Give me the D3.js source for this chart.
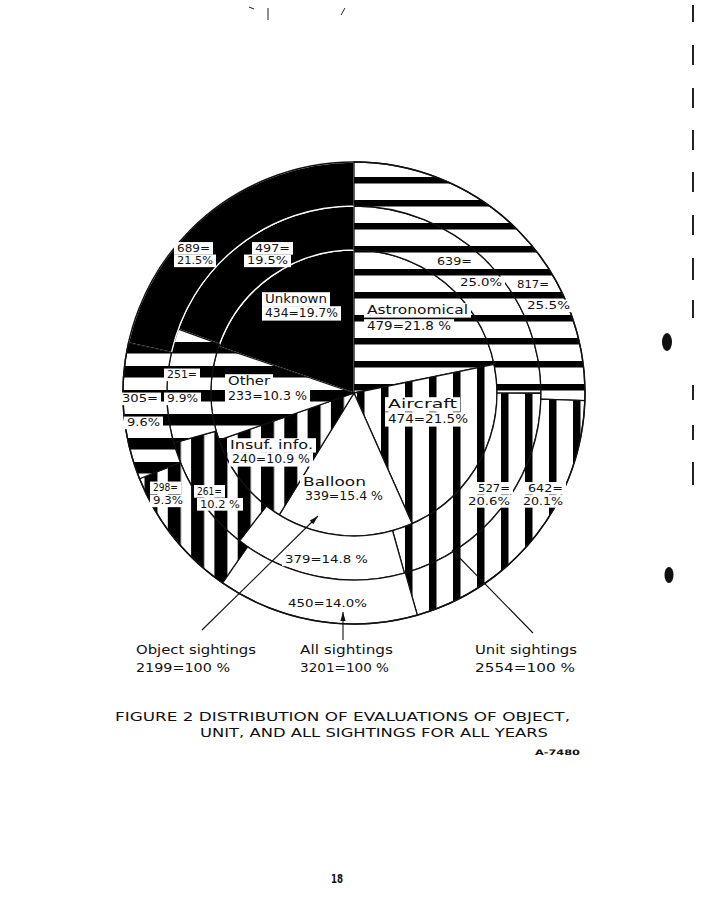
<!DOCTYPE html>
<html><head><meta charset="utf-8">
<script src="https://cdn.jsdelivr.net/npm/d3@7"></script>
<style>
body{margin:0;background:#fff;}
text{font-family:"DejaVu Sans",sans-serif;fill:#111;}
</style>
</head><body>
<svg id="c" width="723" height="900"></svg>
<script>
// ---------------- DATA ----------------
const categories = ["Astronomical", "Aircraft", "Balloon", "Insuf. info.", "Other", "Unknown"];
const objectValues = [479, 474, 339, 240, 233, 434];
const objectPct    = ["21.8 %", "21.5%", "15.4 %", "10.9 %", "10.3 %", "19.7%"];
const unitValues   = [639, 527, 379, 261, 251, 497];
const unitPct      = ["25.0%", "20.6%", "14.8 %", "10.2 %", "9.9%", "19.5%"];
const allValues    = [817, 642, 450, 298, 305, 689];
const allPct       = ["25.5%", "20.1%", "14.0%", "9.3%", "9.6%", "21.5%"];
const ringNames    = ["Object sightings", "Unit sightings", "All sightings"];
const ringTotals   = [2199, 2554, 3201];
const totalPct     = "100 %";
const captionLines = ["FIGURE 2  DISTRIBUTION  OF  EVALUATIONS  OF  OBJECT,", "UNIT,  AND  ALL  SIGHTINGS  FOR  ALL  YEARS"];
const figCode = "A-7480";
const pageNumber = "18";

// ---------------- LAYOUT / STYLE ----------------
const cx = 354, cy = 393;
const ringRadii = [[0, 143], [143, 187], [187, 231]];
const fills = ["url(#pAstro)", "url(#pAir)", "#fff", "url(#pInsuf)", "url(#pOther)", "#000"];
// label lines: [x, baseline, width]
const labelLayout = [
  [ [[367,314,101],[367,330,84]], [[388,408,69],[388,423,80]], [[303,486,63],[305,500,78]],
    [[230,449,83],[232,463,78]], [[228,385,42],[228,400,79]], [[265,303,62],[265,317,73]] ],
  [ [[437,265,35],[460,286,42]], [[478,491.5,32],[468,504.5,42]], [[285,563,83]],
    [[197,494.5,25],[200,507.5,40]], [[167,378,30],[167,402,31]], [[255,251.5,35],[247,264,41]] ],
  [ [[517,288,32],[527,309,43]], [[528,491.5,35],[523,504.5,40]], [[288,607,79]],
    [[153,491,25],[153,504,30]], [[122,402,36],[127,426,33]], [[177,251.5,33],[177,264,36]] ]
];
const labelFont = [12, 10.5, 10.5];
const bottomLayout = [ [[136,654,120],[136,672,94]], [[475,654,102],[475,672,100]], [[300,654,93],[300,672,89]] ];
const leaders = [ {from:[202,630], to:[318,516]}, {from:[533,633], to:[452,550]}, {from:[343,640], to:[343,612]} ];

const svg = d3.select("#c");
svg.append("rect").attr("width",723).attr("height",900).attr("fill","#fff");
const defs = svg.append("defs");

function hPattern(id, period, thick, offset) {
  const p = defs.append("pattern").attr("id", id).attr("patternUnits", "userSpaceOnUse")
    .attr("x", 0).attr("y", offset).attr("width", 40).attr("height", period);
  p.append("rect").attr("width", 40).attr("height", period).attr("fill", "#fff");
  p.append("rect").attr("width", 40).attr("height", thick).attr("fill", "#000");
}
function vPattern(id, period, thick, offset) {
  const p = defs.append("pattern").attr("id", id).attr("patternUnits", "userSpaceOnUse")
    .attr("x", offset).attr("y", 0).attr("width", period).attr("height", 40);
  p.append("rect").attr("width", period).attr("height", 40).attr("fill", "#fff");
  p.append("rect").attr("width", thick).attr("height", 40).attr("fill", "#000");
}
hPattern("pAstro", 23, 6.5, 14);
vPattern("pAir", 24, 7.5, 3);
vPattern("pInsuf", 23.3, 13, 0.2);
hPattern("pOther", 24, 11.5, 21);

const rings = [
  {values: objectValues, pcts: objectPct},
  {values: unitValues, pcts: unitPct},
  {values: allValues, pcts: allPct}
];

const pie = d3.pie().sort(null).value(d => d).startAngle(0).endAngle(2 * Math.PI);
const g = svg.append("g").attr("transform", `translate(${cx},${cy})`);

rings.forEach((ring, ri) => {
  const arc = d3.arc().innerRadius(ringRadii[ri][0]).outerRadius(ringRadii[ri][1]);
  const arcs = pie(ring.values);
  const order = [5, 0, 1, 2, 3, 4];
  order.forEach(ci => {
    g.append("path").attr("d", arc(arcs[ci])).attr("fill", fills[ci])
      .attr("stroke", ci === 5 ? "#fff" : "#111").attr("stroke-width", 1.3)
      .attr("stroke-linejoin", "round");
  });
});
g.append("circle").attr("r", ringRadii[2][1]).attr("fill", "none").attr("stroke", "#111").attr("stroke-width", 1.5);

// labels
function drawLabel(parent, lines, layout, boxes, fs) {
  if (boxes) lines.forEach((t, k) => {
    const [x, y, w] = layout[k];
    parent.append("rect").attr("x", x - 3).attr("y", y - fs * 0.9).attr("width", w + 6).attr("height", fs * 1.2).attr("fill", "#fff");
  });
  lines.forEach((s, k) => {
    const [x, y, w] = layout[k];
    parent.append("text").attr("font-size", fs).attr("x", x).attr("y", y).attr("textLength", w)
      .attr("lengthAdjust", "spacingAndGlyphs").text(s);
  });
}
const lab = svg.append("g");
rings.forEach((ring, ri) => {
  categories.forEach((cat, ci) => {
    let lines;
    if (ri === 0) lines = [cat, ring.values[ci] + "=" + ring.pcts[ci]];
    else if (ci === 2) lines = [ring.values[ci] + "=" + ring.pcts[ci]];
    else lines = [ring.values[ci] + "=", ring.pcts[ci]];
    drawLabel(lab, lines, labelLayout[ri][ci], true, labelFont[ri]);
  });
});

// leaders with arrowheads
const lead = svg.append("g");
leaders.forEach(l => {
  lead.append("line").attr("x1", l.from[0]).attr("y1", l.from[1]).attr("x2", l.to[0]).attr("y2", l.to[1])
    .attr("stroke", "#111").attr("stroke-width", 1.1);
  const ang = Math.atan2(l.to[1] - l.from[1], l.to[0] - l.from[0]);
  const L = 9, W = 2.6;
  const bx = l.to[0] - L * Math.cos(ang), by = l.to[1] - L * Math.sin(ang);
  const px = -Math.sin(ang) * W, py = Math.cos(ang) * W;
  lead.append("path").attr("d", `M${l.to[0]},${l.to[1]}L${bx + px},${by + py}L${bx - px},${by - py}Z`).attr("fill", "#111");
});

// bottom ring labels
const bl = svg.append("g");
ringNames.forEach((n, i) => {
  drawLabel(bl, [n, ringTotals[i] + "=" + totalPct], bottomLayout[i], false, 13);
});

// caption
const cap = svg.append("g").attr("font-size", 12.5);
cap.append("text").attr("x", 115).attr("y", 721).attr("textLength", 455).attr("lengthAdjust", "spacingAndGlyphs").text(captionLines[0]);
cap.append("text").attr("x", 200).attr("y", 737).attr("textLength", 348).attr("lengthAdjust", "spacingAndGlyphs").text(captionLines[1]);
svg.append("text").attr("x", 535).attr("y", 755).attr("font-size", 7.5).attr("font-weight", "bold")
  .attr("textLength", 45).attr("lengthAdjust", "spacingAndGlyphs").text(figCode);
svg.append("text").attr("x", 331).attr("y", 883).attr("font-size", 12).attr("font-weight", "bold")
  .attr("textLength", 12).attr("lengthAdjust", "spacingAndGlyphs").text(pageNumber);

// scan marks (page artefacts)
const marks = svg.append("g").attr("stroke", "#222").attr("stroke-width", 2);
[[5,22],[45,65],[88,108],[130,150],[172,192],[215,235],[258,280],[300,318],[385,400],[425,440],[462,485]]
  .forEach(s => marks.append("line").attr("x1", 693).attr("x2", 693).attr("y1", s[0]).attr("y2", s[1]));
svg.append("ellipse").attr("cx", 667).attr("cy", 342).attr("rx", 5).attr("ry", 9).attr("fill", "#111");
svg.append("ellipse").attr("cx", 669).attr("cy", 575).attr("rx", 4.5).attr("ry", 8).attr("fill", "#111");
marks.append("line").attr("x1", 268).attr("x2", 268).attr("y1", 8).attr("y2", 20).attr("stroke-width", 1);
marks.append("line").attr("x1", 249).attr("x2", 254).attr("y1", 7).attr("y2", 9).attr("stroke-width", 1);
marks.append("line").attr("x1", 345).attr("x2", 341).attr("y1", 8).attr("y2", 15).attr("stroke-width", 1);
</script>
</body></html>
